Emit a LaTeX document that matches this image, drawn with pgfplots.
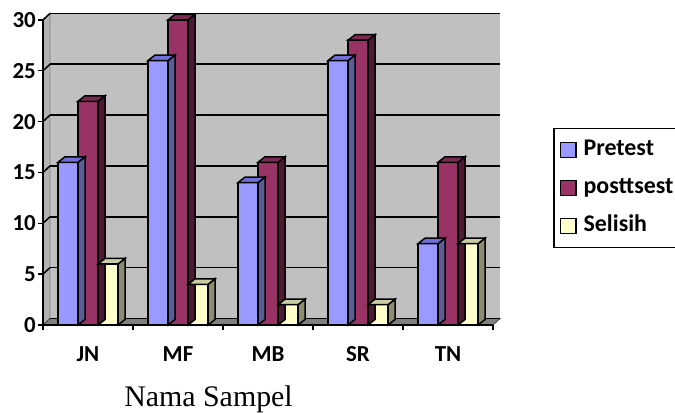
\documentclass[border=0pt]{standalone}
\usepackage{fontspec}
\setmainfont{Carlito}
\newfontfamily\timesf{Liberation Serif}
\usepackage{pgfplots}
\usepackage{pgfplotstable}
\pgfplotsset{compat=1.18}

\definecolor{preF}{HTML}{9999FF}
\definecolor{preT}{HTML}{7070D8}
\definecolor{preS}{HTML}{5C5C99}
\definecolor{postF}{HTML}{993366}
\definecolor{postT}{HTML}{7A2952}
\definecolor{postS}{HTML}{4D1933}
\definecolor{selF}{HTML}{FFFFCC}
\definecolor{selT}{HTML}{CCCCA3}
\definecolor{selS}{HTML}{8C8C70}
\definecolor{wallc}{HTML}{C0C0C0}
\definecolor{floorc}{HTML}{808080}
\definecolor{lwallc}{HTML}{B2B2B2}

% 3D faces (side + top) of a bar, drawn as a mark at the bar's data point
\newcommand\defcube[4]{%
  \pgfdeclareplotmark{#1}{%
    \pgfmathsetmacro\hh{\yv*10.17}%
    \pgfsetlinewidth{1.5bp}%
    \pgfsetstrokecolor{black}%
    \pgfsetfillcolor{#4}%
    \pgfpathmoveto{\pgfpoint{#2bp+10bp}{-\hh bp}}%
    \pgfpathlineto{\pgfpoint{#2bp+17bp}{5.5bp-\hh bp}}%
    \pgfpathlineto{\pgfpoint{#2bp+17bp}{5.5bp}}%
    \pgfpathlineto{\pgfpoint{#2bp+10bp}{0bp}}%
    \pgfpathclose
    \pgfusepath{fill,stroke}%
    \pgfsetfillcolor{#3}%
    \pgfpathmoveto{\pgfpoint{#2bp-10bp}{0bp}}%
    \pgfpathlineto{\pgfpoint{#2bp-3bp}{5.5bp}}%
    \pgfpathlineto{\pgfpoint{#2bp+17bp}{5.5bp}}%
    \pgfpathlineto{\pgfpoint{#2bp+10bp}{0bp}}%
    \pgfpathclose
    \pgfusepath{fill,stroke}%
  }}
\defcube{cubeP}{-20}{preT}{preS}
\defcube{cubeQ}{0}{postT}{postS}
\defcube{cubeS}{20}{selT}{selS}

\pgfplotsset{sqlegend/.style={legend image code/.code={\draw[##1, draw=black, line width=1.4bp] (0bp,-7.5bp) rectangle (15.5bp,8bp);}}}

\pgfplotstableread{
x   pre post sel
0.5 16  22   6
1.5 26  30   4
2.5 14  16   2
3.5 26  28   2
4.5 8   16   8
}\data

\begin{document}
\begin{tikzpicture}[x=1bp,y=1bp]
\begin{axis}[
  at={(0,0)}, anchor=south west,
  set layers, clip=false,
  x=90bp, y=10.17bp,
  xmin=0, xmax=5, ymin=0, ymax=30,
  axis x line*=bottom, axis y line*=left,
  axis line style={black, line width=2bp},
  tick align=outside, major tick length=5bp,
  tick style={black, line width=1.5bp},
  xtick={0,1,2,3,4,5}, xticklabels={},
  extra x ticks={0.5,1.5,2.5,3.5,4.5},
  extra x tick labels={JN,MF,MB,SR,TN},
  extra x tick style={major tick length=0pt, xticklabel style={yshift=-18bp}},
  ytick={0,5,10,15,20,25,30},
  ymajorgrids,
  major grid style={black, line width=1.5bp, xshift=7bp, yshift=6.5bp},
  /pgf/number format/assume math mode=true,
  ticklabel style={font=\fontsize{23}{26}\selectfont\bfseries, text=black},
  yticklabel style={inner xsep=2bp},
  xlabel={Nama Sampel},
  xlabel style={font=\timesf\fontsize{30}{34}\selectfont, at={(axis description cs:0.3678,-0.244)}, anchor=center},
  legend cell align=left,
  legend style={at={(axis description cs:1.1333,0.6457)}, anchor=north west,
    draw=black, line width=1.5bp, font=\fontsize{24}{28}\selectfont\bfseries,
    row sep=13bp, inner xsep=6bp, inner ysep=9bp,
    /tikz/every odd column/.append style={column sep=5bp},
    nodes={inner sep=2bp, text height=16bp, text depth=5bp}},
]
\begin{pgfonlayer}{axis background}
  \fill[wallc] ([shift={(7bp,6.5bp)}]axis cs:0,0) rectangle ([shift={(7bp,6.5bp)}]axis cs:5,30);
  \filldraw[fill=lwallc, draw=gray, line width=0.8bp] (axis cs:0,0) -- ([shift={(7bp,6.5bp)}]axis cs:0,0) -- ([shift={(7bp,6.5bp)}]axis cs:0,30) -- (axis cs:0,30) -- cycle;
  \filldraw[fill=floorc, draw=darkgray, line width=0.8bp] (axis cs:0,0) -- (axis cs:5,0) -- ([shift={(7bp,6.5bp)}]axis cs:5,0) -- ([shift={(7bp,6.5bp)}]axis cs:0,0) -- cycle;
  \pgfplotsinvokeforeach{5,10,15,20,25,30}{
    \draw[black, line width=1.5bp] (axis cs:0,#1) -- ([shift={(7bp,6.5bp)}]axis cs:0,#1);
  }
\end{pgfonlayer}

\addplot[ybar, bar width=20bp, bar shift=-20bp, fill=preF, draw=black, line width=1.5bp, sqlegend] table[x=x,y=pre]{\data};
\addplot[only marks, mark=cubeP, forget plot, visualization depends on={rawy \as \yv}] table[x=x,y=pre]{\data};
\addplot[ybar, bar width=20bp, bar shift=0bp, fill=postF, draw=black, line width=1.5bp, sqlegend] table[x=x,y=post]{\data};
\addplot[only marks, mark=cubeQ, forget plot, visualization depends on={rawy \as \yv}] table[x=x,y=post]{\data};
\addplot[ybar, bar width=20bp, bar shift=20bp, fill=selF, draw=black, line width=1.5bp, sqlegend] table[x=x,y=sel]{\data};
\addplot[only marks, mark=cubeS, forget plot, visualization depends on={rawy \as \yv}] table[x=x,y=sel]{\data};
\legend{Pretest, posttsest, Selisih}
\end{axis}
\pgfresetboundingbox
\path[use as bounding box] (-43,-87) rectangle (632,325);
\end{tikzpicture}
\end{document}
